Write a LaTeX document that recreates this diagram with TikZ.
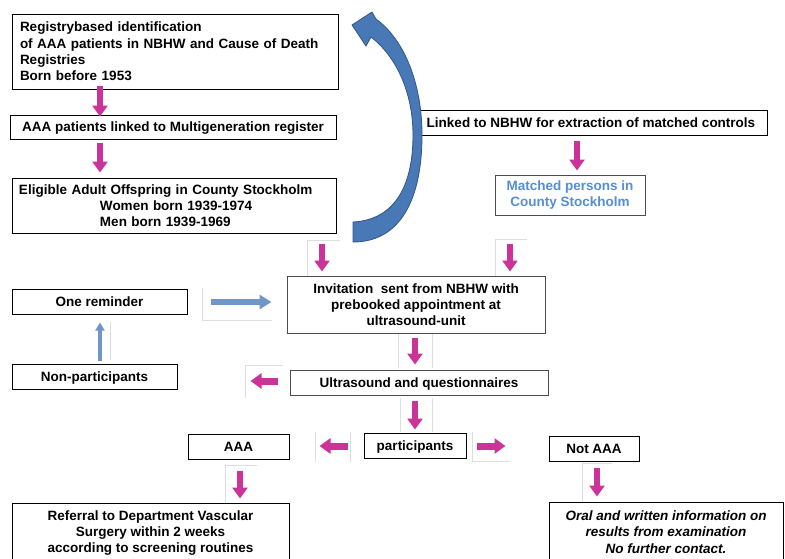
\documentclass[tikz,border=0pt]{standalone}
\usepackage{fontspec}
\setmainfont{Liberation Sans}
\usetikzlibrary{arrows.meta}
\definecolor{pinkc}{RGB}{204,51,153}
\definecolor{bluearr}{RGB}{112,150,200}
\definecolor{bigblue}{RGB}{72,120,182}
\definecolor{bigblueedge}{RGB}{50,86,132}
\definecolor{matchblue}{RGB}{85,142,213}
\begin{document}
\begin{tikzpicture}[x=1pt,y=-1pt,
  box/.style={draw=black, line width=1pt, rectangle, inner sep=0pt,
    font=\fontsize{13.5}{16.3}\selectfont\bfseries},
  multi/.style={box, align=center},
  single/.style={box, text height=9.8pt, text depth=0pt},
  grayc/.style={draw=black!70},
  parrow/.style={draw=pinkc, line width=6pt,
    -{Triangle[width=15pt,length=11pt]}},
  hparrow/.style={draw=pinkc, line width=7pt,
    -{Triangle[width=15pt,length=11pt]}},
  barrow/.style={draw=bluearr, line width=6pt,
    -{Triangle[width=14pt,length=12pt]}},
  barrowthin/.style={draw=bluearr, line width=4pt,
    -{Triangle[width=9pt,length=8pt]}},
  faint/.style={draw=black!13, line width=0.8pt}
]
\useasboundingbox (0,0) rectangle (785,558);
\fill[white] (0,0) rectangle (785,558);

% faint frames of the arrow pictures
\draw[faint] (307,276) -- (307,240) -- (340,240);
\draw[faint] (495,276) -- (495,239) -- (527,239);
\draw[faint] (202,288) -- (202,320) -- (272,320);
\draw[faint] (398,368) -- (398,333) (432,333) -- (432,368);
\draw[faint] (245,398) -- (245,365) -- (283,365);
\draw[faint] (400,432) -- (400,398) (432,398) -- (432,432);
\draw[faint] (110,322) -- (110,360);
\draw[faint] (350,432) -- (350,462) (315,432) -- (315,462);
\draw[faint] (472,432) -- (472,461) -- (510,461);
\draw[faint] (225,503) -- (225,465) -- (257,465);
\draw[faint] (582,502) -- (582,463) -- (612,463);

% nodes
\node[multi, text width=310pt, inner xsep=8pt, minimum height=75pt, align=left] (b1) at (175,51.5)
  {Registrybased identification\\of AAA patients in NBHW and Cause of Death\\Registries\\Born before 1953};
\node[single, minimum width=326pt, minimum height=24pt] (b2) at (173,127)
  {AAA patients linked to Multigeneration register};
\node[multi, text width=310pt, inner xsep=7pt, minimum height=55pt, align=left] (b3) at (174,205.5)
  {Eligible Adult Offspring in County Stockholm\\\hspace*{81pt}Women born 1939-1974\\\hspace*{81pt}Men born 1939-1969};
\node[single, minimum width=352pt, minimum height=25pt] (link) at (591,122.5)
  {Linked to NBHW for extraction of matched controls};
\node[multi, grayc, minimum width=150pt, minimum height=40pt, text=matchblue] (match) at (570,195)
  {Matched persons in\\County Stockholm};
\node[multi, grayc, minimum width=258pt, minimum height=57pt] (inv) at (416,304.5)
  {Invitation \ sent from NBHW with\\prebooked appointment at\\ultrasound-unit};
\node[single, minimum width=175pt, minimum height=25pt] (rem) at (99.5,301.5) {One reminder};
\node[single, minimum width=165pt, minimum height=25pt] (non) at (94.5,376.5) {Non-participants};
\node[single, grayc, minimum width=258pt, minimum height=25pt] (us) at (419,382.5) {Ultrasound and questionnaires};
\node[single, minimum width=102pt, minimum height=25pt] (part) at (415,445.5) {participants};
\node[single, minimum width=101pt, minimum height=25pt] (aaa) at (238.5,446.5) {AAA};
\node[single, minimum width=90pt, minimum height=25pt] (notaaa) at (594,448.5) {Not AAA};
\node[multi, minimum width=277pt, minimum height=60pt] (ref) at (150.5,533)
  {Referral to Department Vascular\\Surgery within 2 weeks\\according to screening routines};
\node[multi, minimum width=234pt, minimum height=60pt, font=\fontsize{13.5}{16.3}\selectfont\bfseries\itshape] (oral) at (666,532)
  {Oral and written information on\\results from examination\\No further contact.};

% reference coordinates for the arrow lines
\coordinate (x100) at (100,0);
\coordinate (x577) at (577,0);
\coordinate (x322) at (322,0);
\coordinate (x510) at (510,0);
\coordinate (x415) at (415,0);
\coordinate (x240) at (240,0);
\coordinate (x597) at (597,0);
\coordinate (y381) at (0,381);
\coordinate (y446) at (0,446);
\coordinate (y302) at (0,302);

% pink arrows
\draw[parrow, shorten <=-4pt, shorten >=-2pt] (b1.south -| x100) -- (b2.north -| x100);
\draw[parrow, shorten <=3pt, shorten >=5pt] (b2.south -| x100) -- (b3.north -| x100);
\draw[parrow, shorten <=5pt, shorten >=4pt] (link.south -| x577) -- (match.north -| x577);
\draw[parrow, shorten <=10pt, shorten >=4pt] (b3.south -| x322) -- (inv.north -| x322);
\draw[parrow, shorten <=28pt, shorten >=4pt] (match.south -| x510) -- (inv.north -| x510);
\draw[parrow, shorten <=4pt, shorten >=5pt] (inv.south -| x415) -- (us.north -| x415);
\draw[parrow, shorten <=5pt, shorten >=3pt] (us.south -| x415) -- (part.north -| x415);
\draw[hparrow, shorten <=12pt, shorten >=73pt] (us.west |- y381) -- (non.east |- y381);
\draw[hparrow, shorten <=16pt, shorten >=30pt] (part.west |- y446) -- (aaa.east |- y446);
\draw[hparrow, shorten <=10pt, shorten >=43pt] (part.east |- y446) -- (notaaa.west |- y446);
\draw[parrow, shorten <=11pt, shorten >=4pt] (aaa.south -| x240) -- (ref.north -| x240);
\draw[parrow, shorten <=6pt, shorten >=5pt] (notaaa.south -| x597) -- (oral.north -| x597);

% blue arrows
\draw[barrow, shorten <=23pt, shorten >=15pt] (rem.east |- y302) -- (inv.west |- y302);
\draw[barrowthin, shorten <=3pt, shorten >=8pt] (non.north -| x100) -- (rem.south -| x100);

% big curved arrow
\filldraw[fill=bigblue, draw=bigblueedge, line width=0.8pt]
  (353,222) .. controls (392,220) and (413,190) .. (413,135)
  .. controls (413,95) and (398,58) .. (371,37)
  -- (366,46) -- (352,25) -- (372,12) -- (376,19)
  .. controls (405,40) and (422,85) .. (422,135)
  .. controls (422,200) and (400,242) .. (353,242) -- cycle;
\end{tikzpicture}
\end{document}
